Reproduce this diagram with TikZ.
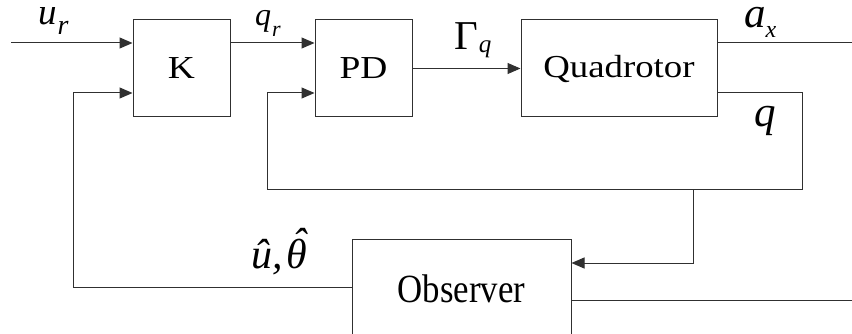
\documentclass[tikz,border=0pt]{standalone}
\usepackage{fontspec}
\setmainfont{Liberation Serif}
\usetikzlibrary{arrows.meta}
\definecolor{linecol}{HTML}{303030}
\newcommand{\lsub}[3]{\raisebox{-#2pt}{\fontsize{#1}{#1}\selectfont\itshape #3}}
\newcommand{\hattheta}{\ooalign{θ\cr\hidewidth\raisebox{10pt}{\kern4pt ˆ}\hidewidth\cr}}
\begin{document}
\begin{tikzpicture}[x=1pt,y=-1pt,
  blk/.style={draw=linecol, line width=1pt, inner sep=0pt, minimum height=97pt, minimum width=#1},
  conn/.style={draw=linecol, line width=1pt},
  arr/.style={conn, -{Triangle[length=13pt,width=11pt]}},
  lbl/.style={inner sep=0pt, anchor=base west, text=black}]
\clip (0,0) rectangle (852,334);
\fill[white] (0,0) rectangle (852,334);
% blocks
\node[blk=97pt] (K) at (181.5,68.5) {\fontsize{32}{36}\selectfont\scalebox{1.17}[1]{K}};
\node[blk=97pt] (PD) at (363.5,68.5) {\fontsize{32}{36}\selectfont\scalebox{1.17}[1]{PD}};
\node[blk=196pt] (Q) at (619,68.5) {\fontsize{32}{36}\selectfont\scalebox{1.15}[1]{Quadrotor}};
\node[blk=219pt, minimum height=99pt] (O) at (461.5,288.5) {\fontsize{40}{48}\selectfont\scalebox{0.87}[1]{Observer}};
% coordinates
\coordinate (ur) at (11,43);
\coordinate (ax) at (852,43);
\coordinate (qr) at (802,93);
\coordinate (ql) at (267,93);
\coordinate (fb) at (73,93);
\coordinate (jn) at (693,190);
\coordinate (oo) at (852,300);
% connectors
\draw[arr] (ur) -- (ur -| K.west);
\draw[arr] (K.east |- 0,43) -- (PD.west |- 0,43);
\draw[arr] (PD.east) -- (Q.west);
\draw[conn] (Q.east |- ax) -- (ax);
\draw[arr] (Q.east |- qr) -- (qr) -- (qr |- jn) -- (ql |- jn) -- (ql) -- (PD.west |- ql);
\draw[arr] (jn) -- (jn |- 0,263) -- (O.east |- 0,263);
\draw[conn] (O.east |- oo) -- (oo);
\draw[arr] (O.west |- 0,287) -- (fb |- 0,287) -- (fb) -- (K.west |- fb);
% labels
\node[lbl] (lur) at (38,25) {\fontsize{37}{40}\selectfont\itshape u\kern1pt\lsub{28}{10}{r}};
\node[lbl] (lqr) at (255,26) {\fontsize{32}{36}\selectfont\itshape q\kern1pt\lsub{22}{11}{r}};
\node[lbl] (lgq) at (454,50) {\fontsize{41}{44}\selectfont Γ\kern1pt\lsub{25}{3}{q}};
\node[lbl] (lax) at (744,28) {\fontsize{43}{46}\selectfont\itshape a\lsub{24}{10}{x}};
\node[lbl] (lq) at (754,127) {\fontsize{43}{46}\selectfont\itshape q};
\node[lbl] (luh) at (251,268) {\fontsize{42}{46}\selectfont\itshape û,\kern4pt\hattheta};
\end{tikzpicture}
\end{document}
